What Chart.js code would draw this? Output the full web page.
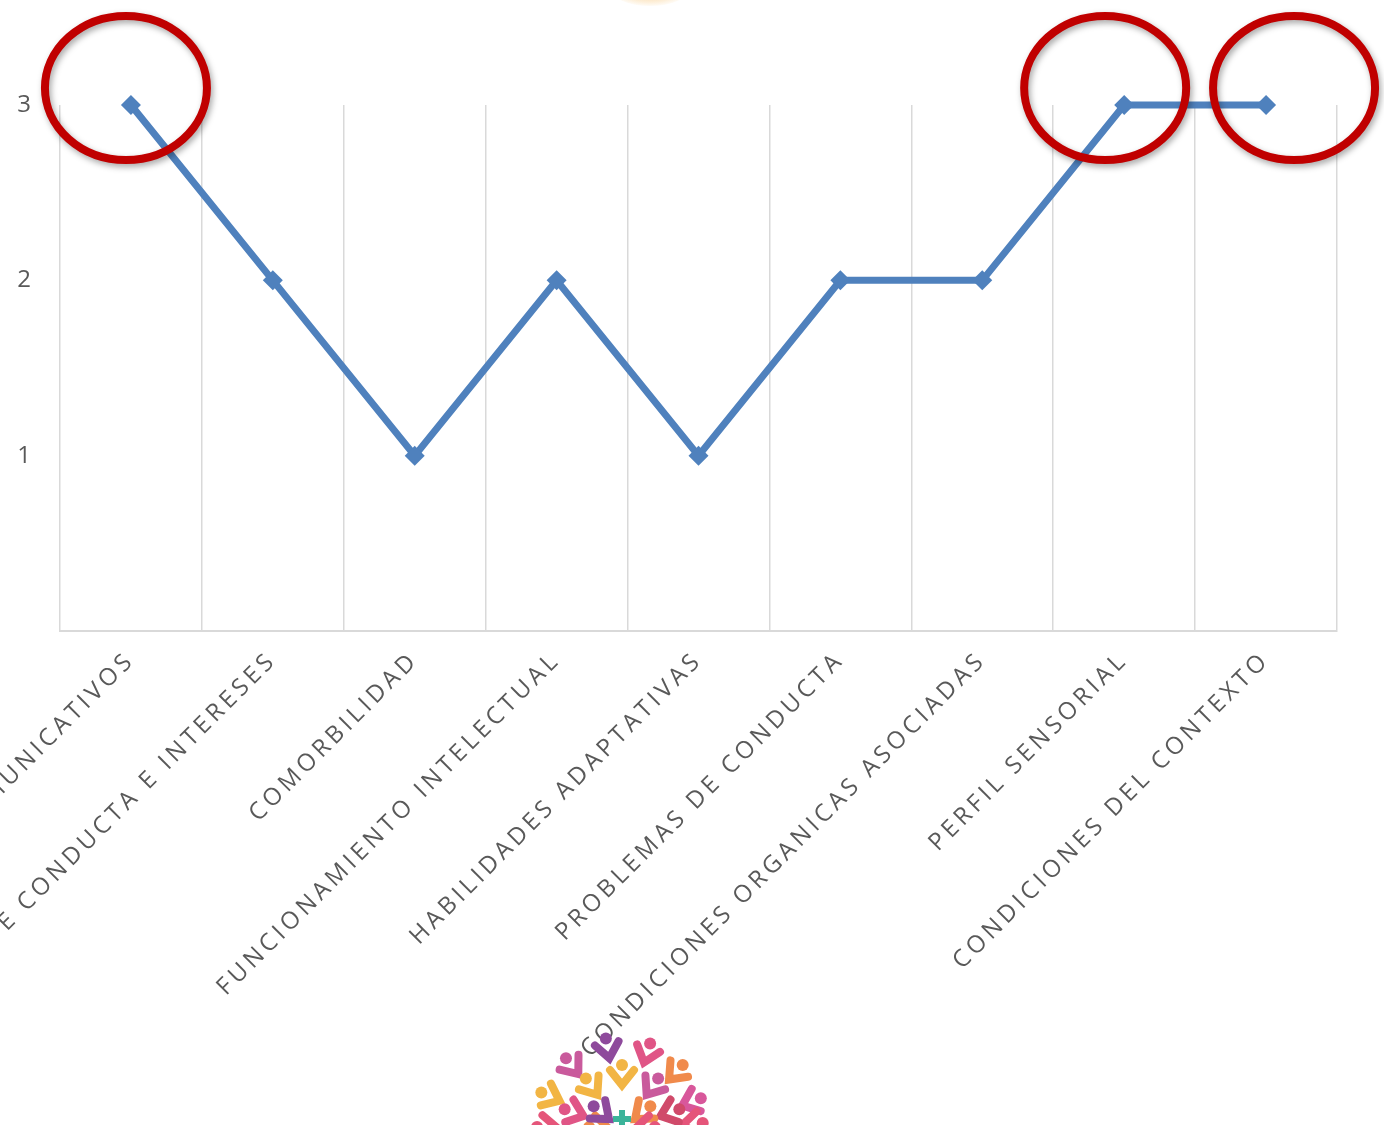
<!DOCTYPE html>
<html lang="es">
<head>
    <meta charset="UTF-8">
    <title>Perfil</title>
    <script src="https://cdn.jsdelivr.net/npm/chart.js"></script>
    <style>
        body { margin: 0; background: #fff; }
        .wrap { position: relative; width: 1384px; height: 1125px; overflow: hidden; }
        #chart { position: absolute; left: 0; top: 0; }
        #logo { position: absolute; left: 530px; top: 1030px; }
        .glow { position: absolute; left: 610px; top: -30px; width: 80px; height: 36px; border-radius: 50%;
                background: radial-gradient(ellipse at center, rgba(245,190,110,0.85) 0%, rgba(250,215,160,0.4) 55%, rgba(255,255,255,0) 75%); }
    </style>
</head>
<body>
<div class="wrap">
    <div class="glow"></div>
    <canvas id="chart" width="1384" height="1125"></canvas>
    <canvas id="logo" width="190" height="95"></canvas>
</div>
<script>
const categories = [
    'ASPECTOS COMUNICATIVOS',
    'PATRONES DE CONDUCTA E INTERESES',
    'COMORBILIDAD',
    'FUNCIONAMIENTO INTELECTUAL',
    'HABILIDADES ADAPTATIVAS',
    'PROBLEMAS DE CONDUCTA',
    'CONDICIONES ORGANICAS ASOCIADAS',
    'PERFIL SENSORIAL',
    'CONDICIONES DEL CONTEXTO'
];
const values = [3, 2, 1, 2, 1, 2, 2, 3, 3];
const yTicks = [1, 2, 3];
const highlighted = [0, 7, 8];

// red rings drawn around the highlighted points
const ringShift = { 0: -5, 7: -19, 8: 28 };
const ringPlugin = {
    id: 'rings',
    afterDatasetsDraw(chart) {
        const { ctx, scales } = chart;
        ctx.save();
        ctx.strokeStyle = '#c00000';
        ctx.lineWidth = 8;
        ctx.shadowColor = 'rgba(0,0,0,0.35)';
        ctx.shadowBlur = 6;
        ctx.shadowOffsetX = 2;
        ctx.shadowOffsetY = 3;
        highlighted.forEach(i => {
            const cx = scales.x.getPixelForValue(i) + ringShift[i];
            const cy = scales.y.getPixelForValue(values[i]) - 17;
            ctx.beginPath();
            ctx.ellipse(cx, cy, 81, 72, 0, 0, Math.PI * 2);
            ctx.stroke();
        });
        ctx.restore();
    }
};

const spacingPlugin = {
    id: 'spacing',
    beforeDraw(chart) { chart.ctx.letterSpacing = '4px'; }
};

new Chart(document.getElementById('chart'), {
    type: 'line',
    data: {
        labels: categories,
        datasets: [{
            data: values,
            borderColor: '#4f81bd',
            backgroundColor: '#4f81bd',
            borderWidth: 7,
            tension: 0,
            pointStyle: 'rectRot',
            pointRadius: 10,
            pointHoverRadius: 10,
            pointBorderWidth: 0,
            clip: false
        }]
    },
    options: {
        responsive: false,
        animation: false,
        layout: { padding: { top: 105, right: 47, left: 0, bottom: 0 } },
        plugins: { legend: { display: false }, tooltip: { enabled: false } },
        scales: {
            x: {
                offset: true,
                grid: { offset: true, color: '#d9d9d9', lineWidth: 1.5, drawTicks: false },
                border: { color: '#d9d9d9', width: 2 },
                ticks: {
                    autoSkip: false,
                    minRotation: 45,
                    maxRotation: 45,
                    padding: 15,
                    color: '#595959',
                    font: { family: 'Open Sans', size: 24 }
                },
                afterFit(scale) {
                    scale.height = 494;
                    scale.paddingLeft = 0;
                    scale.paddingRight = 0;
                }
            },
            y: {
                min: 0,
                max: 3,
                grid: { display: false, drawTicks: false },
                border: { display: false },
                afterBuildTicks(scale) { scale.ticks = yTicks.map(v => ({ value: v })); },
                ticks: {
                    padding: 25,
                    color: '#595959',
                    font: { family: 'Open Sans', size: 24 }
                },
                afterFit(scale) { scale.width = 60; }
            }
        }
    },
    plugins: [ringPlugin, spacingPlugin]
});

// small decorative logo below the axis labels
(function () {
    const c = document.getElementById('logo').getContext('2d');
    const cx = 92, cy = 100;
    const people = [
        [100, 82, '#8e4a9c'], [128, 80, '#c95a9c'], [155, 78, '#f2b544'], [178, 74, '#e5557a'],
        [72, 80, '#e05586'], [47, 78, '#f08a4b'], [22, 74, '#d8579b'], [5, 70, '#e5557a'],
        [160, 50, '#e05586'], [125, 52, '#f2b544'], [90, 54, '#f2b544'], [55, 52, '#c95a9c'], [20, 50, '#d04a6a'],
        [175, 22, '#f08a4b'], [140, 26, '#8e4a9c'], [40, 26, '#f08a4b'], [5, 22, '#e5557a']
    ];
    people.forEach(([deg, r, col]) => {
        const a = deg * Math.PI / 180;
        const ux = Math.cos(a), uy = -Math.sin(a);
        const px = cx + ux * r, py = cy + uy * r;
        const vx = -uy, vy = ux;
        c.fillStyle = col;
        c.strokeStyle = col;
        c.lineWidth = 8;
        c.lineCap = 'round';
        c.beginPath();
        c.arc(px + ux * 11, py + uy * 11, 6, 0, Math.PI * 2);
        c.fill();
        c.beginPath();
        c.moveTo(px + ux * 6 + vx * 12, py + uy * 6 + vy * 12);
        c.lineTo(px - ux * 9, py - uy * 9);
        c.lineTo(px + ux * 6 - vx * 12, py + uy * 6 - vy * 12);
        c.stroke();
    });
    c.fillStyle = '#3bb49a';
    c.fillRect(cx - 3, cy - 20, 6, 18);
    c.fillRect(cx - 9, cy - 14, 18, 6);
})();
</script>
</body>
</html>
